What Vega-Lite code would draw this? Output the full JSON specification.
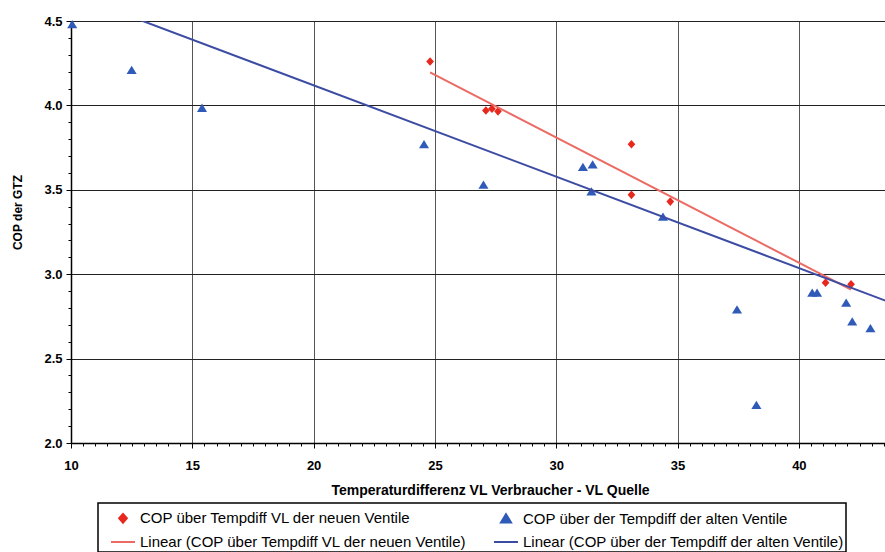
{
  "$schema": "https://vega.github.io/schema/vega-lite/v6.json",
  "width": 814,
  "height": 422,
  "autosize": {"type": "none"},
  "padding": {"left": 71, "top": 21, "right": 0, "bottom": 109},
  "background": "white",
  "config": {
    "view": {"stroke": null},
    "font": "Liberation Sans",
    "legend": {"strokeWidth": 1.5}
  },
  "datasets": {
    "points": [
      {"series": "COP über Tempdiff VL der neuen Ventile", "x": 24.8, "y": 4.26},
      {"series": "COP über Tempdiff VL der neuen Ventile", "x": 27.1, "y": 3.97},
      {"series": "COP über Tempdiff VL der neuen Ventile", "x": 27.35, "y": 3.98},
      {"series": "COP über Tempdiff VL der neuen Ventile", "x": 27.6, "y": 3.965},
      {"series": "COP über Tempdiff VL der neuen Ventile", "x": 33.1, "y": 3.77},
      {"series": "COP über Tempdiff VL der neuen Ventile", "x": 33.1, "y": 3.47},
      {"series": "COP über Tempdiff VL der neuen Ventile", "x": 34.7, "y": 3.43},
      {"series": "COP über Tempdiff VL der neuen Ventile", "x": 41.1, "y": 2.95},
      {"series": "COP über Tempdiff VL der neuen Ventile", "x": 42.15, "y": 2.94},
      {"series": "COP über der Tempdiff der alten Ventile", "x": 10.05, "y": 4.48},
      {"series": "COP über der Tempdiff der alten Ventile", "x": 12.5, "y": 4.21},
      {"series": "COP über der Tempdiff der alten Ventile", "x": 15.4, "y": 3.985},
      {"series": "COP über der Tempdiff der alten Ventile", "x": 24.55, "y": 3.77},
      {"series": "COP über der Tempdiff der alten Ventile", "x": 27.0, "y": 3.53},
      {"series": "COP über der Tempdiff der alten Ventile", "x": 31.1, "y": 3.635},
      {"series": "COP über der Tempdiff der alten Ventile", "x": 31.5, "y": 3.65},
      {"series": "COP über der Tempdiff der alten Ventile", "x": 31.45, "y": 3.49},
      {"series": "COP über der Tempdiff der alten Ventile", "x": 34.4, "y": 3.34},
      {"series": "COP über der Tempdiff der alten Ventile", "x": 37.45, "y": 2.79},
      {"series": "COP über der Tempdiff der alten Ventile", "x": 38.25, "y": 2.225},
      {"series": "COP über der Tempdiff der alten Ventile", "x": 40.55, "y": 2.89},
      {"series": "COP über der Tempdiff der alten Ventile", "x": 40.75, "y": 2.89},
      {"series": "COP über der Tempdiff der alten Ventile", "x": 41.95, "y": 2.83},
      {"series": "COP über der Tempdiff der alten Ventile", "x": 42.2, "y": 2.72},
      {"series": "COP über der Tempdiff der alten Ventile", "x": 42.95, "y": 2.68}
    ],
    "trends": [
      {"series": "Linear (COP über Tempdiff VL der neuen Ventile)", "x": 24.8, "y": 4.195},
      {"series": "Linear (COP über Tempdiff VL der neuen Ventile)", "x": 42.15, "y": 2.909},
      {"series": "Linear (COP über der Tempdiff der alten Ventile)", "x": 10, "y": 4.66},
      {"series": "Linear (COP über der Tempdiff der alten Ventile)", "x": 44, "y": 2.82}
    ]
  },
  "layer": [
    {
      "data": {"name": "points"},
      "mark": {"type": "point", "filled": true, "opacity": 1, "size": 576, "strokeWidth": 0},
      "encoding": {
        "x": {
          "field": "x", "type": "quantitative",
          "scale": {"domain": [10, 43.55], "nice": false, "zero": false},
          "axis": {
            "values": [10,10.5,11,11.5,12,12.5,13,13.5,14,14.5,15,15.5,16,16.5,17,17.5,18,18.5,19,19.5,20,20.5,21,21.5,22,22.5,23,23.5,24,24.5,25,25.5,26,26.5,27,27.5,28,28.5,29,29.5,30,30.5,31,31.5,32,32.5,33,33.5,34,34.5,35,35.5,36,36.5,37,37.5,38,38.5,39,39.5,40,40.5,41,41.5,42,42.5,43,43.5],
            "tickCount": 1000,
            "title": "Temperaturdifferenz VL Verbraucher - VL Quelle",
            "labelExpr": "datum.value % 5 === 0 ? format(datum.value, 'd') : ''",
            "grid": true,
            "gridColor": "#555555",
            "gridWidth": 1,
            "gridOpacity": {"condition": {"test": "datum.value % 5 === 0", "value": 1}, "value": 0},
            "tickSize": {"condition": {"test": "datum.value % 5 === 0", "value": 5}, "value": 3},
            "tickColor": "black",
            "domainColor": "black",
            "domainWidth": 1.5,
            "labelPadding": 11,
            "labelFontSize": 13,
            "labelFontWeight": "bold",
            "labelColor": "black",
            "labelFlush": false,
            "labelOverlap": false,
            "labelBound": false,
            "titleFontSize": 14,
            "titleFontWeight": "bold",
            "titleColor": "black",
            "titleX": 419,
            "titleY": 47,
            "titleBaseline": "middle"
          }
        },
        "y": {
          "field": "y", "type": "quantitative",
          "scale": {"domain": [2, 4.5], "nice": false, "zero": false},
          "axis": {
            "values": [2,2.1,2.2,2.3,2.4,2.5,2.6,2.7,2.8,2.9,3,3.1,3.2,3.3,3.4,3.5,3.6,3.7,3.8,3.9,4,4.1,4.2,4.3,4.4,4.5],
            "tickCount": 1000,
            "title": "COP der GTZ",
            "labelExpr": "abs(datum.value*2 - round(datum.value*2)) < 0.001 ? format(datum.value, '.1f') : ''",
            "grid": true,
            "gridColor": "#222222",
            "gridWidth": 1,
            "gridOpacity": {"condition": {"test": "abs(datum.value*2 - round(datum.value*2)) < 0.001", "value": 1}, "value": 0},
            "tickSize": {"condition": {"test": "abs(datum.value*2 - round(datum.value*2)) < 0.001", "value": 5}, "value": 3},
            "tickColor": "black",
            "domainColor": "black",
            "domainWidth": 1.5,
            "labelPadding": 4,
            "labelFontSize": 13,
            "labelFontWeight": "bold",
            "labelColor": "black",
            "labelFlush": false,
            "labelOverlap": false,
            "labelBound": false,
            "titleFontSize": 12,
            "titleFontWeight": "bold",
            "titleColor": "black",
            "titleAngle": 270,
            "titleX": -54,
            "titleY": 191,
            "titleAlign": "center",
            "titleBaseline": "middle"
          }
        },
        "color": {
          "field": "series", "type": "nominal",
          "scale": {
            "domain": ["COP über Tempdiff VL der neuen Ventile", "COP über der Tempdiff der alten Ventile", "Linear (COP über Tempdiff VL der neuen Ventile)", "Linear (COP über der Tempdiff der alten Ventile)"],
            "range": ["#e8281e", "#2f5ab8", "#ec6a64", "#3d4ca3"]
          },
          "legend": {
            "title": " ", "titleOrient": "left", "titleFontSize": 1, "titlePadding": 10,
            "orient": "none", "legendX": 27, "legendY": 482, "direction": "horizontal",
            "columns": 2, "columnPadding": 23, "rowPadding": 2, "gridAlign": "all",
            "padding": 2, "strokeColor": "black", "fillColor": "white",
            "labelFontSize": 15, "labelFont": "Liberation Sans", "labelColor": "black",
            "labelOffset": 4, "labelLimit": 500, "symbolSize": 576, "symbolStrokeWidth": 2, "symbolOpacity": 1,
            "encode": {"symbols": {"update": {"stroke": {"scale": "color", "field": "value"}, "strokeWidth": {"value": 2}}}}
          }
        },
        "shape": {
          "field": "series", "type": "nominal",
          "scale": {
            "domain": ["COP über Tempdiff VL der neuen Ventile", "COP über der Tempdiff der alten Ventile", "Linear (COP über Tempdiff VL der neuen Ventile)", "Linear (COP über der Tempdiff der alten Ventile)"],
            "range": ["M0,-0.36L0.32,0L0,0.36L-0.32,0Z", "M0,-0.36L0.42,0.33L-0.42,0.33Z", "M-1,0H1", "M-1,0H1"]
          },
          "legend": {
            "title": " ", "titleOrient": "left", "titleFontSize": 1, "titlePadding": 10,
            "orient": "none", "legendX": 27, "legendY": 482, "direction": "horizontal",
            "columns": 2, "columnPadding": 23, "rowPadding": 2, "gridAlign": "all",
            "padding": 2, "strokeColor": "black", "fillColor": "white",
            "labelFontSize": 15, "labelFont": "Liberation Sans", "labelColor": "black",
            "labelOffset": 4, "labelLimit": 500, "symbolSize": 576, "symbolStrokeWidth": 2, "symbolOpacity": 1,
            "encode": {"symbols": {"update": {"stroke": {"scale": "color", "field": "value"}, "strokeWidth": {"value": 2}}}}
          }
        }
      }
    },
    {
      "data": {"name": "trends"},
      "mark": {"type": "line", "strokeWidth": 2, "clip": true},
      "encoding": {
        "x": {"field": "x", "type": "quantitative"},
        "y": {"field": "y", "type": "quantitative"},
        "color": {"field": "series", "type": "nominal"}
      }
    }
  ]
}
